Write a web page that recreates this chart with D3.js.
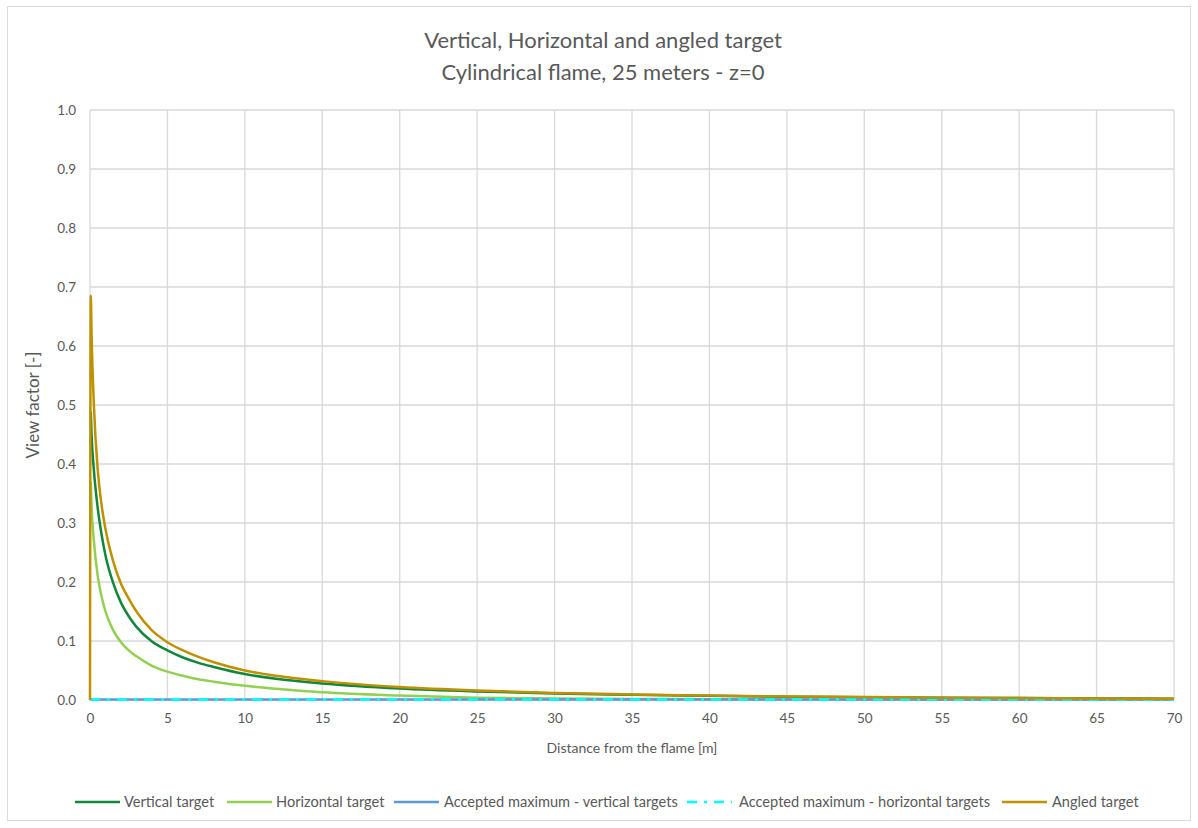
<!DOCTYPE html>
<html>
<head>
<meta charset="utf-8">
<script src="https://cdn.jsdelivr.net/npm/d3@7"></script>
<style>
  html, body { margin: 0; padding: 0; background: #fff; }
  svg { display: block; }
  text { font-family: Lato, "Noto Sans", sans-serif; fill: #595959; }
</style>
</head>
<body>
<svg id="chart" width="1198" height="828"></svg>
<script>
// Distance from the flame [m]
const distance = [0, 0.05, 0.1, 0.25, 0.5, 0.75, 1, 1.5, 2, 2.5, 3, 4, 5, 6, 7, 8, 10, 12, 15, 20, 25, 30, 35, 40, 45, 50, 55, 60, 65, 70];

// View factor for each target orientation
const verticalTarget = [null, 0.489, 0.45, 0.39, 0.325, 0.28, 0.245, 0.198, 0.165, 0.142, 0.124, 0.099, 0.084, 0.072, 0.063, 0.056, 0.044, 0.036, 0.028, 0.0195, 0.0145, 0.011, 0.0088, 0.007, 0.0057, 0.0047, 0.0038, 0.0032, 0.0026, 0.0021];
const horizontalTarget = [null, 0.37, 0.33, 0.27, 0.21, 0.175, 0.15, 0.118, 0.098, 0.084, 0.074, 0.058, 0.048, 0.041, 0.035, 0.031, 0.024, 0.019, 0.013, 0.0075, 0.004, 0.0025, 0.0018, 0.0013, 0.001, 0.0008, 0.0006, 0.0005, 0.0004, 0.0003];
const acceptedVertical = [0.001, 0.001, 0.001, 0.001, 0.001, 0.001, 0.001, 0.001, 0.001, 0.001, 0.001, 0.001, 0.001, 0.001, 0.001, 0.001, 0.001, 0.001, 0.001, 0.001, 0.001, 0.001, 0.001, 0.001, 0.001, 0.001, 0.001, 0.001, 0.001, 0.001];
const acceptedHorizontal = [0.001, 0.001, 0.001, 0.001, 0.001, 0.001, 0.001, 0.001, 0.001, 0.001, 0.001, 0.001, 0.001, 0.001, 0.001, 0.001, 0.001, 0.001, 0.001, 0.001, 0.001, 0.001, 0.001, 0.001, 0.001, 0.001, 0.001, 0.001, 0.001, 0.001];
const angledTarget = [0, 0.685, 0.62, 0.5, 0.39, 0.33, 0.29, 0.235, 0.197, 0.172, 0.15, 0.118, 0.098, 0.084, 0.073, 0.064, 0.05, 0.041, 0.032, 0.022, 0.016, 0.012, 0.0095, 0.0075, 0.006, 0.005, 0.004, 0.0035, 0.0025, 0.002];

const xTicks = [0, 5, 10, 15, 20, 25, 30, 35, 40, 45, 50, 55, 60, 65, 70];
const yTicks = [0, 0.1, 0.2, 0.3, 0.4, 0.5, 0.6, 0.7, 0.8, 0.9, 1.0];

const titleLines = ["Vertical, Horizontal and angled target", "Cylindrical flame, 25 meters - z=0"];
const xTitle = "Distance from the flame [m]";
const yTitle = "View factor [-]";

const series = [
  { name: "Vertical target", values: verticalTarget, color: "#12873c", dash: null },
  { name: "Horizontal target", values: horizontalTarget, color: "#92d050", dash: null },
  { name: "Accepted maximum - vertical targets", values: acceptedVertical, color: "#5b9bd5", dash: null },
  { name: "Accepted maximum - horizontal targets", values: acceptedHorizontal, color: "#00ffff", dash: "10,7,3,7" },
  { name: "Angled target", values: angledTarget, color: "#bf9000", dash: null }
];

const svg = d3.select("#chart");
const W = 1198, H = 828;
const plot = { left: 90, right: 1174, top: 110, bottom: 700 };

// outer chart frame
svg.append("rect")
  .attr("x", 7.5).attr("y", 6.5).attr("width", W - 15).attr("height", H - 14)
  .attr("fill", "#fff").attr("stroke", "#d9d9d9").attr("stroke-width", 1);

const x = d3.scaleLinear().domain([0, 70]).range([plot.left, plot.right]);
const y = d3.scaleLinear().domain([0, 1]).range([plot.bottom, plot.top]);

// gridlines
const grid = svg.append("g");
grid.selectAll("line.v").data(xTicks).join("line")
  .attr("x1", d => x(d)).attr("x2", d => x(d))
  .attr("y1", plot.top).attr("y2", plot.bottom)
  .attr("stroke", "#d9d9d9").attr("stroke-width", 1.3);
grid.selectAll("line.h").data(yTicks).join("line")
  .attr("x1", plot.left).attr("x2", plot.right)
  .attr("y1", d => y(d)).attr("y2", d => y(d))
  .attr("stroke", "#d9d9d9").attr("stroke-width", 1.3);

// axes (labels only; gridlines carry the lines)
const xAxis = d3.axisBottom(x).tickValues(xTicks).tickSize(0).tickPadding(13).tickFormat(d3.format("d"));
const gx = svg.append("g").attr("transform", `translate(0,${plot.bottom})`).call(xAxis);
gx.select(".domain").remove();
gx.selectAll("text").style("font-size", "13.5px").style("font-family", "Lato, sans-serif").attr("fill", "#595959");

const yAxis = d3.axisLeft(y).tickValues(yTicks).tickSize(0).tickPadding(14).tickFormat(d3.format(".1f"));
const gy = svg.append("g").attr("transform", `translate(${plot.left},0)`).call(yAxis);
gy.select(".domain").remove();
gy.selectAll("text").style("font-size", "13.5px").style("font-family", "Lato, sans-serif").attr("fill", "#595959");

// series lines
const line = d3.line()
  .defined(d => d[1] !== null)
  .x(d => x(d[0]))
  .y(d => y(d[1]))
  .curve(d3.curveMonotoneX);

svg.append("g").selectAll("path").data(series).join("path")
  .attr("d", s => line(distance.map((dv, i) => [dv, s.values[i]])))
  .attr("fill", "none")
  .attr("stroke", s => s.color)
  .attr("stroke-width", 2.5)
  .attr("stroke-dasharray", s => s.dash)
  .attr("stroke-linejoin", "round");

// titles
svg.append("text").attr("x", 603).attr("y", 48).attr("text-anchor", "middle")
  .style("font-size", "22px").text(titleLines[0]);
svg.append("text").attr("x", 603).attr("y", 80).attr("text-anchor", "middle")
  .style("font-size", "22px").text(titleLines[1]);

svg.append("text").attr("x", 632).attr("y", 753).attr("text-anchor", "middle")
  .style("font-size", "14px").text(xTitle);
svg.append("text")
  .attr("transform", `translate(39,405) rotate(-90)`)
  .attr("text-anchor", "middle")
  .style("font-size", "17px").text(yTitle);

// legend
const legendLine = [75, 227, 394, 687, 1002];
const legendText = [124, 276, 444, 739, 1052];
const legend = svg.append("g");
series.forEach((s, i) => {
  legend.append("line")
    .attr("x1", legendLine[i]).attr("x2", legendLine[i] + 45)
    .attr("y1", 802).attr("y2", 802)
    .attr("stroke", s.color).attr("stroke-width", 2.5)
    .attr("stroke-dasharray", s.dash);
  legend.append("text")
    .attr("x", legendText[i]).attr("y", 807)
    .style("font-size", "14.6px").text(s.name);
});
</script>
</body>
</html>
